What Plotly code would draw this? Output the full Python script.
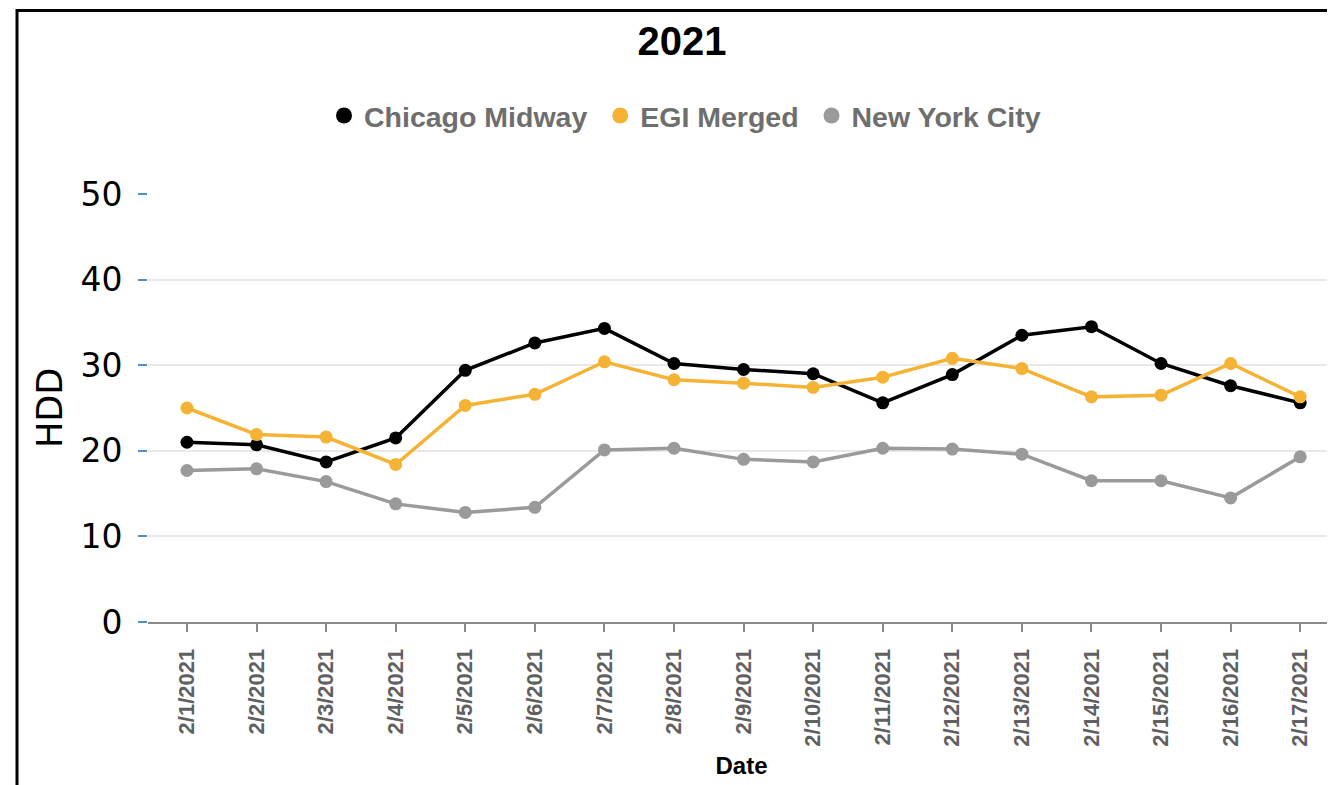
import plotly.graph_objects as go

dates = ["2/1/2021", "2/2/2021", "2/3/2021", "2/4/2021", "2/5/2021", "2/6/2021",
         "2/7/2021", "2/8/2021", "2/9/2021", "2/10/2021", "2/11/2021", "2/12/2021",
         "2/13/2021", "2/14/2021", "2/15/2021", "2/16/2021", "2/17/2021"]

chicago_midway = [21.0, 20.7, 18.7, 21.5, 29.4, 32.6, 34.3, 30.2, 29.5, 29.0,
                  25.6, 28.9, 33.5, 34.5, 30.2, 27.6, 25.6]
egi_merged = [25.0, 21.9, 21.6, 18.4, 25.3, 26.6, 30.4, 28.3, 27.9, 27.4,
              28.6, 30.8, 29.6, 26.3, 26.5, 30.2, 26.3]
new_york_city = [17.7, 17.9, 16.4, 13.8, 12.8, 13.4, 20.1, 20.3, 19.0, 18.7,
                 20.3, 20.2, 19.6, 16.5, 16.5, 14.5, 19.3]

series_names = ["Chicago Midway", "EGI Merged", "New York City"]
series_values = [chicago_midway, egi_merged, new_york_city]
series_colors = ["#000000", "#f5b335", "#9a9a9a"]

y_ticks = [0, 10, 20, 30, 40, 50]

fig = go.Figure()

for name, vals, col in zip(series_names, series_values, series_colors):
    fig.add_trace(go.Scatter(
        x=dates, y=vals, name=name, mode="lines+markers",
        line=dict(color=col, width=3.5),
        marker=dict(color=col, size=13, symbol="circle"),
        showlegend=False,
    ))

# legend-only entries (marker symbol only, as in the reference)
for i, (name, col) in enumerate(zip(series_names, series_colors)):
    label = name + ("\u00a0" if i < len(series_names) - 1 else "")
    fig.add_trace(go.Scatter(
        x=[None], y=[None], name=label, mode="markers",
        marker=dict(color=col, size=17, symbol="circle"),
        showlegend=True,
    ))

FW, FH = 1335, 785
OFF = 8  # page body margin

fig.update_layout(
    width=FW, height=FH,
    margin=dict(l=140, r=8, t=186, b=171),
    plot_bgcolor="white", paper_bgcolor="white",
    title=dict(text="<b>2021</b>", x=(682 - OFF) / FW, xanchor="center",
               y=1 - (41 - OFF) / FH, yref="container", yanchor="middle",
               font=dict(family="Liberation Sans, Arial, sans-serif", size=40, color="#000000")),
    legend=dict(orientation="h", xref="container", yref="container",
                x=(685 - OFF) / FW, xanchor="center", y=1 - (116 - OFF) / FH, yanchor="middle",
                font=dict(family="Liberation Sans, Arial, sans-serif", size=28.5,
                          color="#6e6e6e", weight="bold"),
                itemwidth=30, bgcolor="rgba(0,0,0,0)"),
    showlegend=True,
)

fig.update_xaxes(
    type="category", categoryorder="array", categoryarray=dates,
    range=[-0.56, 16.5],
    showline=True, linecolor="#8a8a8a", linewidth=2,
    ticks="outside", ticklen=8, tickwidth=2, tickcolor="#8a8a8a",
    tickangle=-90, ticklabelstandoff=8,
    tickfont=dict(family="Liberation Sans, Arial, sans-serif", size=22,
                  color="#606060", weight="bold"),
    showgrid=False, zeroline=False,
    title=dict(text="<b>Date</b>", standoff=12,
               font=dict(family="Liberation Sans, Arial, sans-serif", size=24, color="#000000")),
)

fig.update_yaxes(
    range=[0, 50], tickvals=y_ticks,
    ticks="outside", ticklen=9, tickwidth=2, tickcolor="#4a93c9",
    ticklabelstandoff=9,
    tickfont=dict(family="DejaVu Sans, sans-serif", size=33, color="#000000"),
    showgrid=True, gridcolor="#e9e9e9", gridwidth=2,
    zeroline=False, showline=False,
    title=dict(text="HDD", standoff=7,
               font=dict(family="DejaVu Sans, sans-serif", size=35, color="#000000")),
)

# outer black frame (top and left edges visible in the reference)
pl, pt = 140, 186
W = FW - 140 - 8
H = FH - 186 - 171
fig.add_shape(type="rect", xref="paper", yref="paper",
              x0=(17 - OFF - pl) / W, x1=(1400 - pl) / W,
              y0=-(900 - pt - H) / H, y1=(pt + H - 2.5) / H,
              line=dict(color="#000000", width=3), fillcolor="rgba(0,0,0,0)",
              layer="above")

fig.write_html("out.html")
